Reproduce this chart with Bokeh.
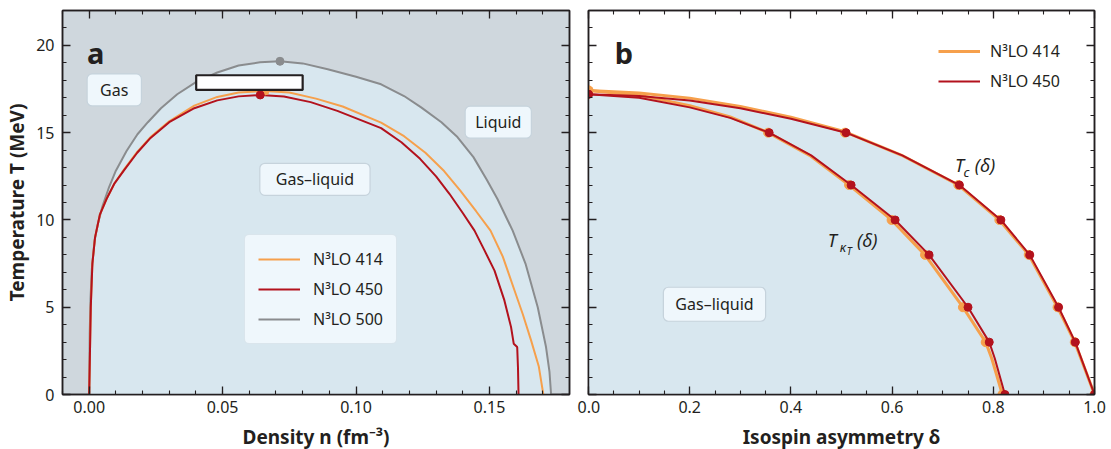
from bokeh.plotting import figure
from bokeh.layouts import row
from bokeh.models import (LinearAxis, SingleIntervalTicker, NumeralTickFormatter,
                          CustomJSTickFormatter, Legend, LegendItem, Label,
                          BoxAnnotation, Range1d)
from bokeh.embed import file_html
from bokeh.resources import INLINE

# ---------------- data: panel a (coexistence boundaries) ----------------
n500 = [0.0, 0.0002, 0.0005, 0.0010, 0.0020, 0.0033, 0.0050, 0.0075, 0.0100, 0.0140,
        0.0181, 0.0220, 0.0269, 0.0330, 0.0400, 0.0480, 0.0560, 0.0640, 0.0715, 0.0800,
        0.0894, 0.1000, 0.1094, 0.1180, 0.1244, 0.1320, 0.1380, 0.1440, 0.1490, 0.1530,
        0.1587, 0.1635, 0.1681, 0.1712, 0.1725, 0.1731]
T500 = [0.0, 3.5, 5.5, 7.2, 8.8, 9.8, 10.8, 11.9, 12.82, 13.95,
        14.91, 15.6, 16.4, 17.2, 17.9, 18.45, 18.85, 19.03, 19.09, 18.97,
        18.63, 18.2, 17.77, 17.1, 16.45, 15.6, 14.75, 13.6, 12.3, 11.2,
        9.39, 7.5, 5.0, 2.72, 1.3, 0.0]

n414 = [0.0, 0.0003, 0.0006, 0.0012, 0.0022, 0.0040, 0.0065, 0.0095, 0.0131, 0.0180,
        0.0230, 0.0300, 0.0394, 0.0480, 0.0560, 0.0659, 0.0750, 0.0850, 0.0950, 0.1094,
        0.1180, 0.1260, 0.1330, 0.1390, 0.1450, 0.1504, 0.1550, 0.1594, 0.1625, 0.1656,
        0.1685, 0.1702]
T414 = [0.0, 2.5, 5.0, 7.5, 9.0, 10.3, 11.2, 12.1, 12.9, 13.9,
        14.75, 15.65, 16.55, 17.05, 17.3, 17.39, 17.3, 16.95, 16.5, 15.58,
        14.8, 13.85, 12.8, 11.7, 10.5, 9.39, 7.9, 5.96, 4.6, 3.1,
        1.6, 0.0]

n450 = [0.0, 0.0003, 0.0006, 0.0012, 0.0022, 0.0040, 0.0065, 0.0095, 0.0131, 0.0180,
        0.0230, 0.0300, 0.0394, 0.0480, 0.0560, 0.0641, 0.0730, 0.0830, 0.0930, 0.1094,
        0.1170, 0.1240, 0.1300, 0.1350, 0.1400, 0.1444, 0.1480, 0.1519, 0.1556, 0.1581,
        0.1591, 0.1604, 0.1607, 0.1609]
T450 = [0.0, 2.5, 5.0, 7.5, 9.0, 10.3, 11.2, 12.1, 12.85, 13.85,
        14.7, 15.6, 16.4, 16.85, 17.08, 17.16, 17.07, 16.75, 16.25, 15.26,
        14.45, 13.5, 12.5, 11.5, 10.4, 9.39, 8.3, 7.1, 5.39, 3.86,
        2.91, 2.72, 1.5, 0.0]

crit_n = [0.0659, 0.0641, 0.0715]      # 414, 450, 500
crit_T = [17.39, 17.16, 19.09]

# ---------------- data: panel b (critical temperatures vs asymmetry) ----------------
dTc450 = [0.0, 0.1, 0.2, 0.3, 0.4, 0.509, 0.62, 0.733, 0.815, 0.872, 0.929, 0.962, 1.0]
Tc450 = [17.2, 17.1, 16.85, 16.4, 15.8, 15.0, 13.7, 12.0, 10.0, 8.0, 5.0, 3.0, 0.0]
dTc414 = [0.0, 0.1, 0.2, 0.3, 0.4, 0.507, 0.618, 0.731, 0.812, 0.870, 0.927, 0.961, 1.0]
Tc414 = [17.42, 17.28, 16.98, 16.5, 15.88, 15.05, 13.72, 12.0, 10.0, 8.0, 5.0, 3.0, 0.0]
mTc_d450 = [0.0, 0.509, 0.733, 0.815, 0.872, 0.929, 0.962, 1.0]
mTc_T450 = [17.2, 15.0, 12.0, 10.0, 8.0, 5.0, 3.0, 0.0]
mTc_d414 = [0.0, 0.507, 0.731, 0.812, 0.870, 0.927, 0.961, 1.0]
mTc_T414 = [17.42, 15.0, 12.0, 10.0, 8.0, 5.0, 3.0, 0.0]

dK450 = [0.0, 0.1, 0.2, 0.28, 0.357, 0.44, 0.519, 0.606, 0.673, 0.750, 0.792, 0.803, 0.823]
TK450 = [17.2, 17.0, 16.45, 15.85, 15.0, 13.7, 12.0, 10.0, 8.0, 5.0, 3.0, 2.06, 0.0]
dK414 = [0.0, 0.1, 0.2, 0.28, 0.355, 0.437, 0.515, 0.599, 0.665, 0.740, 0.785, 0.797, 0.818]
TK414 = [17.42, 17.15, 16.55, 15.9, 15.0, 13.7, 12.0, 10.0, 8.0, 5.0, 3.0, 2.06, 0.0]
mK_d450 = [0.0, 0.357, 0.519, 0.606, 0.673, 0.750, 0.792, 0.823]
mK_T450 = [17.2, 15.0, 12.0, 10.0, 8.0, 5.0, 3.0, 0.0]
mK_d414 = [0.0, 0.355, 0.515, 0.599, 0.665, 0.740, 0.785, 0.818]
mK_T414 = [17.42, 15.0, 12.0, 10.0, 8.0, 5.0, 3.0, 0.0]

labels = ["N\u00b3LO 414", "N\u00b3LO 450", "N\u00b3LO 500"]

# ---------------- style ----------------
FONT = "Noto Sans"
ORANGE = "#f6a04c"
RED = "#b3121d"
GRAY = "#8a8c8e"
BG = "#cfd7dd"
FILL = "#d8e7ef"
BOXF = "#eff7fc"
BOXL = "#c6d3dc"
INK = "#231f20"


def tick_style(ax, labels_on=True, vertical=False):
    ax.major_tick_in = 8
    ax.major_tick_out = 0
    ax.minor_tick_in = 4
    ax.minor_tick_out = 0
    ax.major_tick_line_color = INK
    ax.minor_tick_line_color = INK
    ax.major_tick_line_width = 1.3
    ax.minor_tick_line_width = 1.1
    ax.axis_line_color = INK
    ax.axis_line_width = 1.5
    ax.major_label_text_font = FONT
    ax.major_label_text_color = INK
    if labels_on:
        ax.major_label_text_font_size = "16px"
        ax.major_label_standoff = 8 if vertical else 6
    else:
        ax.formatter = CustomJSTickFormatter(code="return ''")
        ax.major_label_text_font_size = "0px"
        ax.major_label_standoff = 0
    ax.axis_label_text_font = FONT
    ax.axis_label_text_font_style = "bold"
    ax.axis_label_text_font_size = "19px"
    ax.axis_label_text_color = INK
    ax.axis_label_standoff = 3 if vertical else 8


def make_fig(xr, fw, left_border, right_border, bg):
    p = figure(frame_width=fw, frame_height=384,
               x_range=xr, y_range=Range1d(0, 22),
               output_backend="svg", toolbar_location=None,
               min_border_left=left_border, min_border_right=right_border,
               min_border_top=10, min_border_bottom=54,
               background_fill_color=bg, border_fill_color="white",
               outline_line_color=INK, outline_line_width=1.5)
    p.xgrid.visible = False
    p.ygrid.visible = False
    return p


def add_box_label(p, x, y, text, padx, pady=5):
    lab = Label(x=x, y=y, text=text, text_align="center", text_baseline="middle",
                text_font=FONT, text_font_size="16px", text_color=INK,
                background_fill_color=BOXF, background_fill_alpha=1.0,
                border_line_color=BOXL, border_line_width=1.2)
    try:
        lab.padding = dict(left=padx, right=padx, top=pady, bottom=pady)
    except Exception:
        lab.padding = padx
    try:
        lab.border_radius = 5
    except Exception:
        pass
    p.add_layout(lab)


# ================= panel a =================
p1 = make_fig(Range1d(-0.01, 0.18), 507, 62, 8, BG)
p1.below[0].ticker = SingleIntervalTicker(interval=0.05, num_minor_ticks=5)
p1.below[0].formatter = NumeralTickFormatter(format="0.00")
p1.below[0].axis_label = "Density n (fm\u207b\u00b3)"
p1.left[0].ticker = SingleIntervalTicker(interval=5, num_minor_ticks=5)
p1.left[0].axis_label = "Temperature T (MeV)"
tick_style(p1.below[0])
tick_style(p1.left[0], True, True)
ax_top1 = LinearAxis(ticker=SingleIntervalTicker(interval=0.05, num_minor_ticks=5))
ax_right1 = LinearAxis(ticker=SingleIntervalTicker(interval=5, num_minor_ticks=5))
tick_style(ax_top1, False)
tick_style(ax_right1, False)
p1.add_layout(ax_top1, "above")
p1.add_layout(ax_right1, "right")

p1.patch(n500, T500, fill_color=FILL, line_color=None)
r500 = p1.line(n500, T500, line_color=GRAY, line_width=2)
r414 = p1.line(n414, T414, line_color=ORANGE, line_width=2)
r450 = p1.line(n450, T450, line_color=RED, line_width=2)
p1.scatter([crit_n[2]], [crit_T[2]], size=8, color=GRAY)
p1.scatter([crit_n[0]], [crit_T[0]], size=8, color=ORANGE)
p1.scatter([crit_n[1]], [crit_T[1]], size=8, color=RED)

p1.add_layout(BoxAnnotation(left=0.0401, right=0.0800, bottom=17.45, top=18.29,
                            fill_color="white", fill_alpha=1.0,
                            line_color=INK, line_alpha=1.0, line_width=2.2))

add_box_label(p1, 0.0094, 17.45, "Gas", 13)
add_box_label(p1, 0.1533, 15.6, "Liquid", 10)
add_box_label(p1, 0.0846, 12.33, "Gas\u2013liquid", 16)
p1.add_layout(Label(x=-0.0008, y=19.58, text="a", text_font=FONT, text_font_style="bold",
                    text_font_size="29px", text_color=INK, text_baseline="alphabetic"))

leg1 = Legend(items=[LegendItem(label=labels[0], renderers=[r414]),
                     LegendItem(label=labels[1], renderers=[r450]),
                     LegendItem(label=labels[2], renderers=[r500])],
              location=(182, 50), padding=13, spacing=8, margin=0,
              glyph_width=42, glyph_height=20, label_standoff=13,
              label_text_font=FONT, label_text_font_size="16px", label_text_color=INK,
              background_fill_color=BOXF, background_fill_alpha=1.0,
              border_line_color=BOXL, border_line_width=1.2)
try:
    leg1.border_radius = 5
except Exception:
    pass
p1.add_layout(leg1)

# ================= panel b =================
p2 = make_fig(Range1d(0, 1.0), 506, 11, 12, "white")
p2.below[0].ticker = SingleIntervalTicker(interval=0.2, num_minor_ticks=4)
p2.below[0].formatter = NumeralTickFormatter(format="0.0")
p2.below[0].axis_label = "Isospin asymmetry \u03b4"
p2.left[0].ticker = SingleIntervalTicker(interval=5, num_minor_ticks=5)
tick_style(p2.below[0])
tick_style(p2.left[0], False)
ax_top2 = LinearAxis(ticker=SingleIntervalTicker(interval=0.2, num_minor_ticks=4))
ax_right2 = LinearAxis(ticker=SingleIntervalTicker(interval=5, num_minor_ticks=5))
tick_style(ax_top2, False)
tick_style(ax_right2, False)
p2.add_layout(ax_top2, "above")
p2.add_layout(ax_right2, "right")

p2.varea(x=dTc450, y1=0, y2=Tc450, fill_color=FILL)
o1 = p2.line(dTc414, Tc414, line_color=ORANGE, line_width=3)
p2.line(dK414, TK414, line_color=ORANGE, line_width=3)
p2.scatter(mTc_d414, mTc_T414, size=9, color=ORANGE)
p2.scatter(mK_d414, mK_T414, size=9, color=ORANGE)
q1 = p2.line(dTc450, Tc450, line_color=RED, line_width=2)
p2.line(dK450, TK450, line_color=RED, line_width=2)
p2.scatter(mTc_d450, mTc_T450, size=8, color=RED)
p2.scatter(mK_d450, mK_T450, size=8, color=RED)

add_box_label(p2, 0.249, 5.17, "Gas\u2013liquid", 12, 6)
p2.add_layout(Label(x=0.052, y=19.58, text="b", text_font=FONT, text_font_style="bold",
                    text_font_size="29px", text_color=INK, text_baseline="alphabetic"))


def it(p, x, y, txt, size, style="italic"):
    p.add_layout(Label(x=x, y=y, text=txt, text_font=FONT, text_font_style=style,
                       text_font_size=size, text_color=INK, text_baseline="middle"))


it(p2, 0.7245, 13.16, "T", "18px")
it(p2, 0.741, 12.75, "c", "13px")
it(p2, 0.7635, 13.16, "(\u03b4)", "18px")
it(p2, 0.4727, 8.87, "T", "18px")
it(p2, 0.4966, 8.45, "\u03ba", "13px")
it(p2, 0.5105, 8.2, "T", "10px")
it(p2, 0.5307, 8.87, "(\u03b4)", "18px")

leg2 = Legend(items=[LegendItem(label=labels[0], renderers=[o1]),
                     LegendItem(label=labels[1], renderers=[q1])],
              location=(350, 302), padding=0, spacing=8, margin=0,
              glyph_width=42, glyph_height=20, label_standoff=10,
              label_text_font=FONT, label_text_font_size="16px", label_text_color=INK,
              background_fill_alpha=0.0, border_line_alpha=0.0)
p2.add_layout(leg2)

layout = row(p1, p2)
open("out.html", "w").write(file_html(layout, INLINE))
